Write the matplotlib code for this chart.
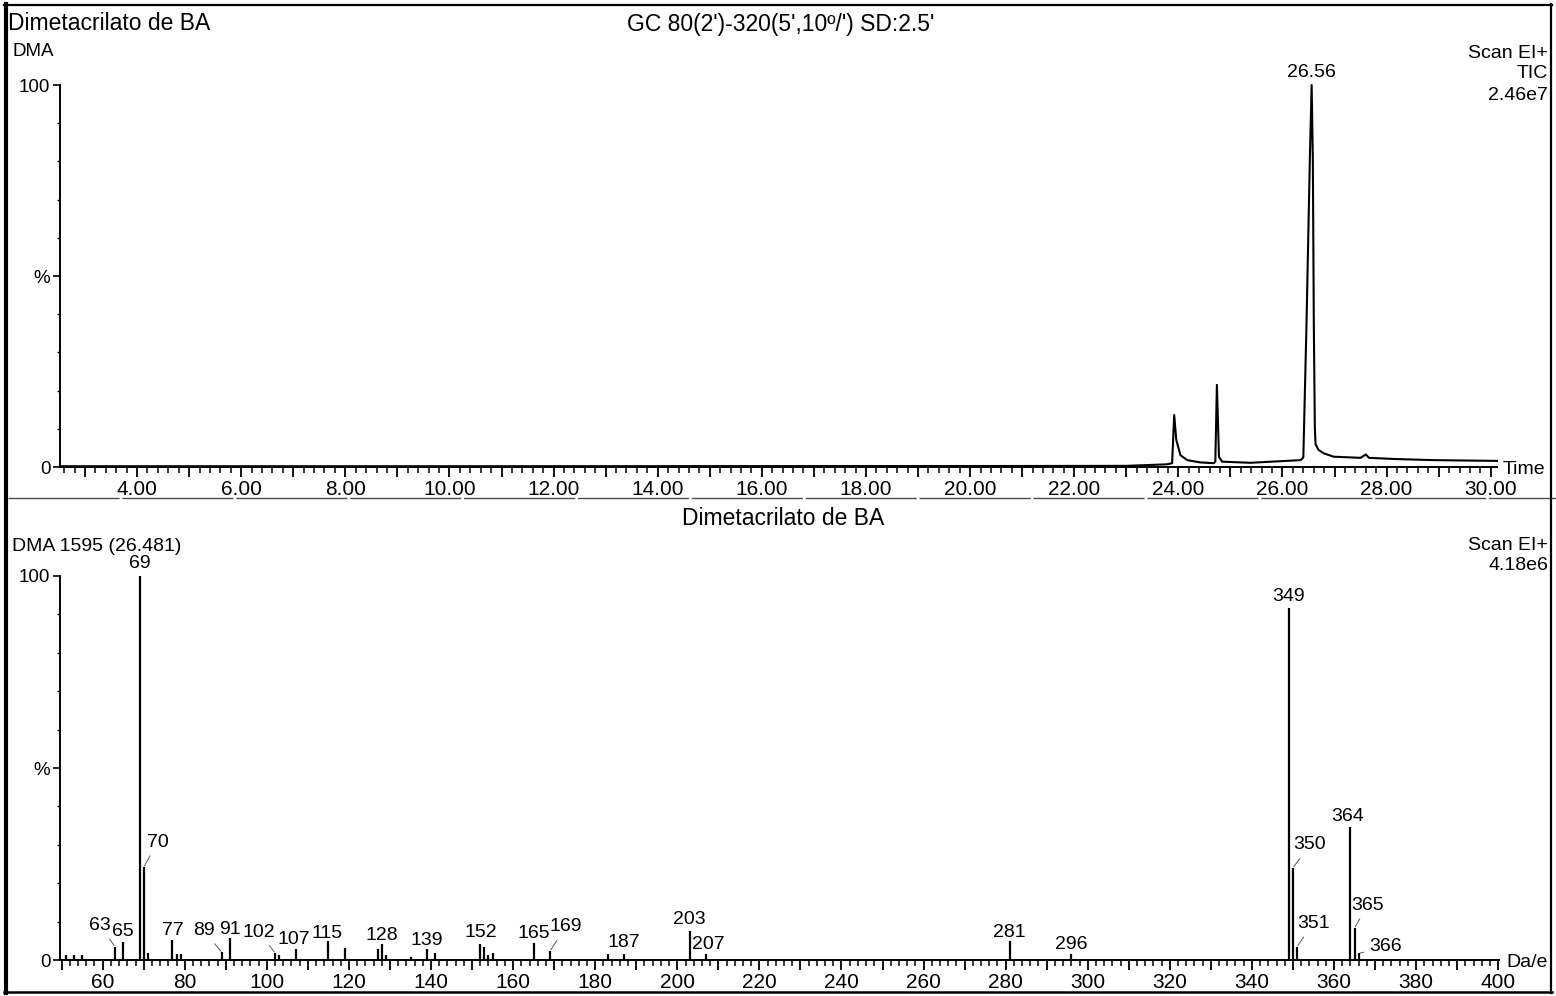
import numpy as np
import matplotlib
matplotlib.use("Agg")
import matplotlib.pyplot as plt
from matplotlib.lines import Line2D

plt.rcParams['font.family'] = ['Liberation Sans', 'DejaVu Sans']

# TIC chromatogram, retention time (min) vs relative intensity (%)
tic_time = [2.52, 10.0, 20.0, 23.0, 23.78, 23.88, 23.92, 23.96, 24.04, 24.17,
            24.42, 24.68, 24.71, 24.74, 24.78, 24.84, 25.38, 26.35, 26.40, 26.46,
            26.525, 26.56, 26.583, 26.602, 26.621, 26.635, 26.69, 26.79, 26.98,
            27.50, 27.60, 27.66, 28.14, 28.90, 30.12]
tic_pct = [0.2, 0.2, 0.25, 0.3, 0.7, 1.0, 13.6, 7.1, 3.1, 1.8,
           1.2, 1.0, 1.4, 21.5, 2.7, 1.4, 1.1, 1.8, 2.5, 36.7,
           80.4, 100.0, 80.4, 36.7, 10.5, 6.0, 4.5, 3.6, 2.7,
           2.4, 3.3, 2.4, 2.1, 1.8, 1.6]
tic_apex = 26.56

# EI spectrum of scan 1595
ms_mz = [51, 53, 55, 63, 65, 69, 70, 71, 77, 78, 79, 89, 91, 102, 103, 107,
         115, 119, 127, 128, 129, 135, 139, 141, 152, 153, 154, 155, 165, 169,
         183, 187, 203, 207, 281, 296, 349, 350, 351, 364, 365, 366]
ms_pct = [1.3, 1.3, 1.3, 3.5, 4.6, 100.0, 24.2, 1.9, 5.2, 1.5, 1.5, 2.0, 5.7,
          1.8, 1.3, 2.9, 4.9, 3.1, 2.8, 4.1, 1.3, 0.9, 2.8, 1.9, 4.2, 3.5, 1.3,
          1.8, 4.3, 2.4, 1.6, 1.6, 7.6, 1.6, 4.9, 1.6, 91.7, 24.0, 3.5, 34.7,
          8.3, 1.7]
ms_labelled = [63, 65, 69, 70, 77, 89, 91, 102, 107, 115, 128, 139, 152, 165,
               169, 187, 203, 207, 281, 296, 349, 350, 351, 364, 365, 366]

# label offsets in pixels (dx, dy from stick top); True -> draw a leader line
label_pos = {63: (-15, 21, True), 65: (0, 11, False), 69: (0, 13, False),
             70: (14, 25, True), 77: (0, 10, False), 89: (-18, 22, True),
             91: (0, 9, False), 102: (-16, 21, True), 107: (-2, 9, False),
             115: (-1, 8, False), 128: (0, 9, False), 139: (0, 9, False),
             152: (1, 11, False), 165: (0, 10, False), 169: (16, 24, True),
             187: (0, 11, False), 203: (0, 11, False), 207: (2, 9, False),
             281: (0, 9, False), 296: (0, 9, False), 349: (0, 11, False),
             350: (17, 23, True), 351: (16, 23, True), 364: (-3, 10, False),
             365: (13, 23, True), 366: (27, 7, True)}

W, H = 1556, 996
fig = plt.figure(figsize=(W / 100, H / 100), dpi=100)


def fx(px):
    return px / W


def fy(py):
    return 1 - py / H


def px2pt(v):
    return v * 0.72


def style_axes(ax):
    for s in ('top', 'right'):
        ax.spines[s].set_visible(False)
    ax.spines['left'].set_linewidth(1.4)
    ax.spines['bottom'].set_linewidth(1.4)
    ax.set_ylim(0, 100)
    ax.set_yticks([0, 50, 100])
    ax.set_yticklabels(['0', '%', '100'])
    ax.set_yticks(np.arange(0, 101, 10), minor=True)
    ax.tick_params(axis='y', which='major', length=5, width=1.2, labelsize=13.5, pad=2)
    ax.tick_params(axis='y', which='minor', length=2.4, width=1.0)
    ax.tick_params(axis='x', which='major', length=7, width=1.3, labelsize=15, pad=2.5)
    ax.tick_params(axis='x', which='minor', length=4, width=1.1)
    ax.patch.set_alpha(0)


# ---- chromatogram ----
ax1 = fig.add_axes([fx(60), fy(467), fx(1497 - 60), (467 - 85) / H])
style_axes(ax1)
ax1.plot(tic_time, tic_pct, color='black', lw=1.5, clip_on=False)
ax1.set_xlim(2.52, 30.12)
maj = np.arange(3, 31, 1)
ax1.set_xticks(maj)
ax1.set_xticklabels([f"{v:.2f}" if v % 2 == 0 else "" for v in maj])
ax1.set_xticks(np.arange(2.6, 30.1, 0.2), minor=True)
ax1.annotate(f"{tic_apex:.2f}", xy=(tic_apex, 100), xytext=(0, px2pt(13)),
             textcoords='offset points', ha='center', va='center', fontsize=14)

# ---- mass spectrum ----
ax2 = fig.add_axes([fx(60), fy(960), fx(1499 - 60), (960 - 576) / H])
style_axes(ax2)
ax2.vlines(ms_mz, 0, ms_pct, color='black', lw=1.6, clip_on=False)
ax2.set_xlim(49.6, 400.2)
maj = np.arange(50, 401, 10)
ax2.set_xticks(maj)
ax2.set_xticklabels([str(v) if v % 20 == 0 else "" for v in maj])
ax2.set_xticks(np.arange(52, 400, 2), minor=True)

for mz in ms_labelled:
    pct = ms_pct[ms_mz.index(mz)]
    dx, dy, leader = label_pos[mz]
    arrow = None
    if leader:
        arrow = dict(arrowstyle='-', lw=0.7, color='0.35', shrinkA=2, shrinkB=1)
    ax2.annotate(str(mz), xy=(mz, pct), xytext=(px2pt(dx), px2pt(dy)),
                 textcoords='offset points', ha='center', va='center',
                 fontsize=14, arrowprops=arrow)

# ---- header texts ----
fig.text(fx(8), fy(24), "Dimetacrilato de BA", fontsize=16.5, va='center', ha='left')
fig.text(fx(781), fy(24), "GC 80(2')-320(5',10º/') SD:2.5'", fontsize=16.5,
         va='center', ha='center')
fig.text(fx(12), fy(52), "DMA", fontsize=13.5, va='center', ha='left')
fig.text(fx(1548), fy(53), "Scan EI+", fontsize=14, va='center', ha='right')
fig.text(fx(1548), fy(74), "TIC", fontsize=14, va='center', ha='right')
fig.text(fx(1548), fy(95), "2.46e7", fontsize=14, va='center', ha='right')
fig.text(fx(1503), fy(470), "Time", fontsize=14, va='center', ha='left')

fig.text(fx(783), fy(518), "Dimetacrilato de BA", fontsize=16.5, va='center', ha='center')
fig.text(fx(12), fy(546), "DMA 1595 (26.481)", fontsize=14, va='center', ha='left')
fig.text(fx(1548), fy(545), "Scan EI+", fontsize=14, va='center', ha='right')
fig.text(fx(1548), fy(566), "4.18e6", fontsize=14, va='center', ha='right')
fig.text(fx(1506), fy(962), "Da/e", fontsize=14, va='center', ha='left')

# panel separator and page frame
fig.add_artist(Line2D([fx(8), fx(1556)], [fy(498), fy(498)], color='0.3', lw=1.0,
                      linestyle=(0, (80, 2))))
fig.add_artist(Line2D([fx(5.5), fx(5.5)], [fy(4), fy(993)], color='black', lw=3.0))
fig.add_artist(Line2D([fx(4), fx(1552)], [fy(5), fy(5)], color='black', lw=1.6))
fig.add_artist(Line2D([fx(1551), fx(1551)], [fy(4), fy(993)], color='black', lw=1.6))
fig.add_artist(Line2D([fx(4), fx(1552)], [fy(992), fy(992)], color='black', lw=1.8))

fig.savefig("out.png", dpi=100)
